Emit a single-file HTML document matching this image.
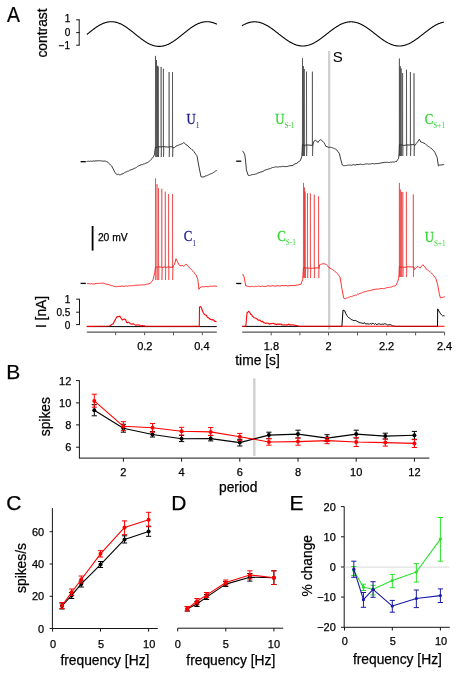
<!DOCTYPE html>
<html><head><meta charset="utf-8"><title>Figure</title>
<style>html,body{margin:0;padding:0;background:#fff;}body{width:458px;height:675px;overflow:hidden;}svg{display:block;}</style>
</head><body>
<svg width="458" height="675" viewBox="0 0 458 675"><text x="6.9" y="21.6" font-size="21.5" text-anchor="start" fill="#000" stroke="#000" stroke-width="0.25" font-family="Liberation Sans, Arial, sans-serif" transform="translate(6.9 21.6) scale(0.9 1) translate(-6.9 -21.6)">A</text>
<text x="46.5" y="33" font-size="13.8" text-anchor="middle" fill="#000" stroke="#000" stroke-width="0.25" font-family="Liberation Sans, Arial, sans-serif" transform="rotate(-90 46.5 33)" >contrast</text>
<line x1="79.2" y1="19.8" x2="79.2" y2="45.2" stroke="#151515" stroke-width="1"/>
<line x1="76.2" y1="19.8" x2="79.7" y2="19.8" stroke="#151515" stroke-width="1"/>
<line x1="76.2" y1="32.6" x2="79.7" y2="32.6" stroke="#151515" stroke-width="1"/>
<line x1="76.2" y1="45.2" x2="79.7" y2="45.2" stroke="#151515" stroke-width="1"/>
<text x="70.2" y="22.0" font-size="10" text-anchor="end" fill="#000" stroke="#000" stroke-width="0.25" font-family="Liberation Sans, Arial, sans-serif" >1</text>
<text x="70.4" y="36.4" font-size="10" text-anchor="end" fill="#000" stroke="#000" stroke-width="0.25" font-family="Liberation Sans, Arial, sans-serif" >0</text>
<text x="70.2" y="49.0" font-size="10" text-anchor="end" fill="#000" stroke="#000" stroke-width="0.25" font-family="Liberation Sans, Arial, sans-serif" >−1</text>
<path d="M86.90,34.46 L87.40,34.05 L87.90,33.64 L88.40,33.24 L88.90,32.83 L89.40,32.43 L89.90,32.03 L90.40,31.63 L90.90,31.23 L91.40,30.84 L91.90,30.45 L92.40,30.06 L92.90,29.68 L93.40,29.31 L93.90,28.93 L94.40,28.57 L94.90,28.21 L95.40,27.85 L95.90,27.50 L96.40,27.16 L96.90,26.83 L97.40,26.50 L97.90,26.19 L98.40,25.88 L98.90,25.58 L99.40,25.29 L99.90,25.01 L100.40,24.74 L100.90,24.47 L101.40,24.22 L101.90,23.98 L102.40,23.75 L102.90,23.53 L103.40,23.33 L103.90,23.13 L104.40,22.95 L104.90,22.78 L105.40,22.62 L105.90,22.47 L106.40,22.33 L106.90,22.21 L107.40,22.10 L107.90,22.01 L108.40,21.92 L108.90,21.85 L109.40,21.80 L109.90,21.75 L110.40,21.72 L110.90,21.70 L111.40,21.70 L111.90,21.71 L112.40,21.73 L112.90,21.77 L113.40,21.82 L113.90,21.88 L114.40,21.96 L114.90,22.04 L115.40,22.15 L115.90,22.26 L116.40,22.39 L116.90,22.53 L117.40,22.68 L117.90,22.84 L118.40,23.02 L118.90,23.21 L119.40,23.41 L119.90,23.62 L120.40,23.84 L120.90,24.08 L121.40,24.32 L121.90,24.58 L122.40,24.84 L122.90,25.12 L123.40,25.40 L123.90,25.70 L124.40,26.00 L124.90,26.31 L125.40,26.63 L125.90,26.96 L126.40,27.30 L126.90,27.64 L127.40,27.99 L127.90,28.35 L128.40,28.71 L128.90,29.08 L129.40,29.46 L129.90,29.83 L130.40,30.22 L130.90,30.61 L131.40,31.00 L131.90,31.39 L132.40,31.79 L132.90,32.19 L133.40,32.59 L133.90,33.00 L134.40,33.40 L134.90,33.81 L135.40,34.21 L135.90,34.62 L136.40,35.02 L136.90,35.43 L137.40,35.83 L137.90,36.23 L138.40,36.63 L138.90,37.02 L139.40,37.42 L139.90,37.80 L140.40,38.19 L140.90,38.57 L141.40,38.94 L141.90,39.31 L142.40,39.68 L142.90,40.04 L143.40,40.39 L143.90,40.73 L144.40,41.07 L144.90,41.40 L145.40,41.72 L145.90,42.04 L146.40,42.34 L146.90,42.64 L147.40,42.93 L147.90,43.20 L148.40,43.47 L148.90,43.73 L149.40,43.97 L149.90,44.21 L150.40,44.44 L150.90,44.65 L151.40,44.85 L151.90,45.04 L152.40,45.22 L152.90,45.39 L153.40,45.54 L153.90,45.69 L154.40,45.82 L154.90,45.93 L155.40,46.04 L155.90,46.13 L156.40,46.21 L156.90,46.27 L157.40,46.32 L157.90,46.36 L158.40,46.39 L158.90,46.40 L159.40,46.40 L159.90,46.38 L160.40,46.35 L160.90,46.31 L161.40,46.26 L161.90,46.19 L162.40,46.11 L162.90,46.02 L163.40,45.91 L163.90,45.79 L164.40,45.66 L164.90,45.51 L165.40,45.36 L165.90,45.19 L166.40,45.01 L166.90,44.81 L167.40,44.61 L167.90,44.39 L168.40,44.16 L168.90,43.93 L169.40,43.68 L169.90,43.42 L170.40,43.15 L170.90,42.87 L171.40,42.58 L171.90,42.28 L172.40,41.97 L172.90,41.66 L173.40,41.34 L173.90,41.00 L174.40,40.66 L174.90,40.32 L175.40,39.97 L175.90,39.61 L176.40,39.24 L176.90,38.87 L177.40,38.49 L177.90,38.11 L178.40,37.73 L178.90,37.34 L179.40,36.94 L179.90,36.55 L180.40,36.15 L180.90,35.75 L181.40,35.35 L181.90,34.94 L182.40,34.54 L182.90,34.13 L183.40,33.73 L183.90,33.32 L184.40,32.92 L184.90,32.51 L185.40,32.11 L185.90,31.71 L186.40,31.31 L186.90,30.92 L187.40,30.53 L187.90,30.14 L188.40,29.76 L188.90,29.38 L189.40,29.01 L189.90,28.64 L190.40,28.28 L190.90,27.92 L191.40,27.57 L191.90,27.23 L192.40,26.90 L192.90,26.57 L193.40,26.25 L193.90,25.94 L194.40,25.64 L194.90,25.35 L195.40,25.06 L195.90,24.79 L196.40,24.53 L196.90,24.27 L197.40,24.03 L197.90,23.80 L198.40,23.58 L198.90,23.37 L199.40,23.17 L199.90,22.98 L200.40,22.81 L200.90,22.65 L201.40,22.50 L201.90,22.36 L202.40,22.24 L202.90,22.12 L203.40,22.03 L203.90,21.94 L204.40,21.87 L204.90,21.81 L205.40,21.76 L205.90,21.73 L206.40,21.71 L206.90,21.70 L207.40,21.71 L207.90,21.73 L208.40,21.76 L208.90,21.81 L209.40,21.87 L209.90,21.94 L210.40,22.03 L210.90,22.12 L211.40,22.24 L211.90,22.36 L212.40,22.50 L212.90,22.65 L213.40,22.81 L213.90,22.98 L214.40,23.17 L214.90,23.37 L215.40,23.58 L215.90,23.80 L216.40,24.03 L216.90,24.27" fill="none" stroke="#000" stroke-width="1.1" stroke-linejoin="round" />
<path d="M241.90,25.71 L242.40,25.43 L242.90,25.15 L243.40,24.88 L243.90,24.63 L244.40,24.38 L244.90,24.14 L245.40,23.91 L245.90,23.69 L246.40,23.49 L246.90,23.29 L247.40,23.11 L247.90,22.94 L248.40,22.77 L248.90,22.63 L249.40,22.49 L249.90,22.36 L250.40,22.25 L250.90,22.15 L251.40,22.06 L251.90,21.99 L252.40,21.92 L252.90,21.87 L253.40,21.84 L253.90,21.81 L254.40,21.80 L254.90,21.80 L255.40,21.82 L255.90,21.84 L256.40,21.88 L256.90,21.94 L257.40,22.00 L257.90,22.08 L258.40,22.17 L258.90,22.27 L259.40,22.39 L259.90,22.51 L260.40,22.65 L260.90,22.81 L261.40,22.97 L261.90,23.14 L262.40,23.33 L262.90,23.53 L263.40,23.74 L263.90,23.96 L264.40,24.19 L264.90,24.43 L265.40,24.68 L265.90,24.94 L266.40,25.21 L266.90,25.48 L267.40,25.77 L267.90,26.07 L268.40,26.37 L268.90,26.69 L269.40,27.01 L269.90,27.33 L270.40,27.67 L270.90,28.01 L271.40,28.36 L271.90,28.71 L272.40,29.07 L272.90,29.43 L273.40,29.80 L273.90,30.18 L274.40,30.55 L274.90,30.93 L275.40,31.32 L275.90,31.70 L276.40,32.09 L276.90,32.48 L277.40,32.88 L277.90,33.27 L278.40,33.66 L278.90,34.06 L279.40,34.45 L279.90,34.85 L280.40,35.24 L280.90,35.63 L281.40,36.02 L281.90,36.41 L282.40,36.79 L282.90,37.17 L283.40,37.55 L283.90,37.92 L284.40,38.29 L284.90,38.66 L285.40,39.02 L285.90,39.37 L286.40,39.72 L286.90,40.06 L287.40,40.40 L287.90,40.73 L288.40,41.05 L288.90,41.36 L289.40,41.67 L289.90,41.97 L290.40,42.26 L290.90,42.54 L291.40,42.81 L291.90,43.07 L292.40,43.32 L292.90,43.57 L293.40,43.80 L293.90,44.02 L294.40,44.23 L294.90,44.43 L295.40,44.62 L295.90,44.80 L296.40,44.96 L296.90,45.12 L297.40,45.26 L297.90,45.39 L298.40,45.51 L298.90,45.61 L299.40,45.70 L299.90,45.78 L300.40,45.85 L300.90,45.91 L301.40,45.95 L301.90,45.98 L302.40,46.00 L302.90,46.00 L303.40,45.99 L303.90,45.97 L304.40,45.93 L304.90,45.89 L305.40,45.83 L305.90,45.75 L306.40,45.67 L306.90,45.57 L307.40,45.46 L307.90,45.34 L308.40,45.20 L308.90,45.06 L309.40,44.90 L309.90,44.73 L310.40,44.55 L310.90,44.35 L311.40,44.15 L311.90,43.93 L312.40,43.71 L312.90,43.47 L313.40,43.23 L313.90,42.97 L314.40,42.70 L314.90,42.43 L315.40,42.14 L315.90,41.85 L316.40,41.55 L316.90,41.24 L317.40,40.92 L317.90,40.60 L318.40,40.27 L318.90,39.93 L319.40,39.58 L319.90,39.23 L320.40,38.87 L320.90,38.51 L321.40,38.15 L321.90,37.77 L322.40,37.40 L322.90,37.02 L323.40,36.64 L323.90,36.25 L324.40,35.86 L324.90,35.47 L325.40,35.08 L325.90,34.69 L326.40,34.29 L326.90,33.90 L327.40,33.51 L327.90,33.11 L328.40,32.72 L328.90,32.33 L329.40,31.94 L329.90,31.55 L330.40,31.16 L330.90,30.78 L331.40,30.40 L331.90,30.03 L332.40,29.65 L332.90,29.29 L333.40,28.93 L333.90,28.57 L334.40,28.22 L334.90,27.87 L335.40,27.53 L335.90,27.20 L336.40,26.88 L336.90,26.56 L337.40,26.25 L337.90,25.95 L338.40,25.66 L338.90,25.37 L339.40,25.10 L339.90,24.83 L340.40,24.57 L340.90,24.33 L341.40,24.09 L341.90,23.87 L342.40,23.65 L342.90,23.45 L343.40,23.25 L343.90,23.07 L344.40,22.90 L344.90,22.74 L345.40,22.60 L345.90,22.46 L346.40,22.34 L346.90,22.23 L347.40,22.13 L347.90,22.05 L348.40,21.97 L348.90,21.91 L349.40,21.87 L349.90,21.83 L350.40,21.81 L350.90,21.80 L351.40,21.80 L351.90,21.82 L352.40,21.85 L352.90,21.89 L353.40,21.95 L353.90,22.02 L354.40,22.10 L354.90,22.19 L355.40,22.29 L355.90,22.41 L356.40,22.54 L356.90,22.68 L357.40,22.84 L357.90,23.00 L358.40,23.18 L358.90,23.37 L359.40,23.57 L359.90,23.78 L360.40,24.00 L360.90,24.23 L361.40,24.48 L361.90,24.73 L362.40,24.99 L362.90,25.26 L363.40,25.54 L363.90,25.83 L364.40,26.13 L364.90,26.44 L365.40,26.75 L365.90,27.07 L366.40,27.40 L366.90,27.74 L367.40,28.08 L367.90,28.43 L368.40,28.78 L368.90,29.14 L369.40,29.51 L369.90,29.88 L370.40,30.25 L370.90,30.63 L371.40,31.01 L371.90,31.39 L372.40,31.78 L372.90,32.17 L373.40,32.56 L373.90,32.95 L374.40,33.35 L374.90,33.74 L375.40,34.14 L375.90,34.53 L376.40,34.92 L376.90,35.32 L377.40,35.71 L377.90,36.10 L378.40,36.48 L378.90,36.87 L379.40,37.25 L379.90,37.62 L380.40,38.00 L380.90,38.37 L381.40,38.73 L381.90,39.09 L382.40,39.44 L382.90,39.79 L383.40,40.13 L383.90,40.47 L384.40,40.79 L384.90,41.11 L385.40,41.43 L385.90,41.73 L386.40,42.03 L386.90,42.32 L387.40,42.59 L387.90,42.86 L388.40,43.12 L388.90,43.37 L389.40,43.61 L389.90,43.84 L390.40,44.06 L390.90,44.27 L391.40,44.47 L391.90,44.66 L392.40,44.83 L392.90,44.99 L393.40,45.15 L393.90,45.29 L394.40,45.41 L394.90,45.53 L395.40,45.63 L395.90,45.72 L396.40,45.80 L396.90,45.86 L397.40,45.92 L397.90,45.96 L398.40,45.98 L398.90,46.00 L399.40,46.00 L399.90,45.99 L400.40,45.96 L400.90,45.93 L401.40,45.88 L401.90,45.81 L402.40,45.74 L402.90,45.65 L403.40,45.55 L403.90,45.44 L404.40,45.31 L404.90,45.17 L405.40,45.03 L405.90,44.86 L406.40,44.69 L406.90,44.51 L407.40,44.31 L407.90,44.11 L408.40,43.89 L408.90,43.66 L409.40,43.42 L409.90,43.17 L410.40,42.92 L410.90,42.65 L411.40,42.37 L411.90,42.09 L412.40,41.79 L412.90,41.49 L413.40,41.18 L413.90,40.86 L414.40,40.53 L414.90,40.20 L415.40,39.86 L415.90,39.51 L416.40,39.16 L416.90,38.80 L417.40,38.44 L417.90,38.07 L418.40,37.70 L418.90,37.32 L419.40,36.94 L419.90,36.56 L420.40,36.17 L420.90,35.79 L421.40,35.39 L421.90,35.00 L422.40,34.61 L422.90,34.22 L423.40,33.82 L423.90,33.43 L424.40,33.03 L424.90,32.64 L425.40,32.25 L425.90,31.86 L426.40,31.47 L426.90,31.09 L427.40,30.70 L427.90,30.33 L428.40,29.95 L428.90,29.58 L429.40,29.21 L429.90,28.85 L430.40,28.50 L430.90,28.15 L431.40,27.80 L431.90,27.47 L432.40,27.14 L432.90,26.81 L433.40,26.50 L433.90,26.19 L434.40,25.89 L434.90,25.60 L435.40,25.32 L435.90,25.04 L436.40,24.78 L436.90,24.52 L437.40,24.28 L437.90,24.05 L438.40,23.82 L438.90,23.61 L439.40,23.41 L439.90,23.22 L440.40,23.04 L440.90,22.87 L441.40,22.71 L441.90,22.57 L442.40,22.44 L442.90,22.32 L443.40,22.21 L443.90,22.11" fill="none" stroke="#000" stroke-width="1.1" stroke-linejoin="round" />
<rect x="328.0" y="50.8" width="2.3" height="278.8" fill="#d0d0d0"/>
<text x="332.7" y="62.3" font-size="15" text-anchor="start" fill="#000" stroke="#000" stroke-width="0.05" font-family="Liberation Sans, Arial, sans-serif" >S</text>
<path d="M86.50,161.50 L87.56,161.33 L88.62,161.16 L89.68,161.47 L90.75,161.02 L91.81,161.29 L92.87,161.13 L93.93,160.87 L94.99,161.14 L96.05,160.76 L97.12,160.99 L98.18,160.69 L99.24,160.66 L100.30,160.90 L101.57,160.88 L102.83,161.20 L104.10,161.00 L105.37,161.14 L106.63,161.61 L107.90,162.20 L109.17,163.56 L110.43,165.05 L111.70,166.00 L112.73,168.12 L113.77,170.06 L114.80,172.20 L116.30,174.10 L117.33,174.67 L118.37,174.25 L119.40,174.80 L120.67,174.68 L121.93,173.92 L123.20,173.70 L124.23,172.85 L125.27,172.23 L126.30,171.90 L127.42,171.27 L128.55,171.12 L129.68,170.18 L130.80,169.90 L131.95,169.48 L133.10,169.05 L134.25,168.39 L135.40,168.00 L136.55,167.36 L137.70,166.34 L138.85,165.67 L140.00,165.30 L141.15,164.72 L142.30,164.68 L143.45,164.12 L144.60,163.80 L145.87,163.14 L147.13,162.79 L148.40,162.20 L149.67,160.90 L150.93,159.53 L152.20,158.40 L153.35,156.71 L154.50,154.60 L155.00,150.00 L155.40,147.16 L156.00,147.12 L156.40,147.39 L157.00,147.26 L157.40,146.83 L158.00,146.91 L158.20,147.13 L158.80,146.62 L161.00,146.97 L161.60,146.73 L163.30,146.69 L163.90,146.65 L169.00,147.21 L169.60,146.70 L172.40,146.80 L173.00,146.91 L173.50,148.00 L174.73,147.34 L175.97,146.22 L177.20,145.60 L178.40,145.19 L179.60,144.68 L180.80,144.20 L181.80,143.93 L182.80,143.29 L183.80,142.60 L184.85,143.35 L185.90,144.74 L186.95,145.03 L188.00,146.20 L189.00,147.04 L190.00,148.18 L191.00,148.66 L192.00,149.79 L193.00,150.38 L194.00,151.60 L195.00,153.12 L196.00,154.59 L197.00,155.80 L198.80,166.00 L201.00,176.80 L202.00,176.95 L203.00,177.00 L204.10,176.83 L205.20,176.00 L206.30,175.84 L207.40,175.33 L208.50,174.89 L209.60,174.40 L210.63,173.83 L211.66,173.55 L212.69,173.08 L213.71,172.21 L214.74,171.80 L215.77,170.84 L216.80,170.60" fill="none" stroke="#161616" stroke-width="0.85" stroke-linejoin="round" />
<path d="M155.40,147.00 L155.50,55.90 L155.65,157.00 L156.00,147.00 M156.40,147.00 L156.50,60.00 L156.65,157.00 L157.00,147.00 M157.40,147.00 L157.50,65.80 L157.65,157.00 L158.00,147.00 M158.20,147.00 L158.30,66.50 L158.45,157.00 L158.80,147.00 M161.00,147.00 L161.10,66.90 L161.25,157.00 L161.60,147.00 M163.30,147.00 L163.40,68.70 L163.55,157.00 L163.90,147.00 M169.00,147.00 L169.10,72.00 L169.25,157.00 L169.60,147.00 M172.40,147.00 L172.50,72.00 L172.65,157.00 L173.00,147.00" fill="none" stroke="#2a2a2a" stroke-width="0.55" stroke-opacity="1"/>
<line x1="80.6" y1="161.7" x2="85.8" y2="161.7" stroke="#000" stroke-width="1.3"/>
<path d="M242.30,150.80 L243.50,152.00 L244.80,154.90 L245.60,161.00 L246.40,169.90 L248.10,175.20 L249.35,175.51 L250.60,175.30 L251.64,174.69 L252.67,174.64 L253.71,174.40 L254.75,174.32 L255.79,173.96 L256.82,173.68 L257.86,172.96 L258.90,172.80 L259.94,172.33 L260.97,171.88 L262.01,171.83 L263.05,171.47 L264.09,170.49 L265.12,170.10 L266.16,169.72 L267.20,169.50 L268.24,168.99 L269.27,168.84 L270.31,168.59 L271.35,168.03 L272.39,167.53 L273.43,167.49 L274.46,167.13 L275.50,166.90 L276.54,166.90 L277.57,167.12 L278.61,166.88 L279.65,166.71 L280.69,166.73 L281.73,166.72 L282.76,166.24 L283.80,166.50 L284.82,166.68 L285.85,166.50 L286.88,166.46 L287.90,166.31 L288.93,165.92 L289.95,165.83 L290.98,165.52 L292.00,165.70 L293.00,165.29 L294.00,164.39 L295.00,163.90 L296.00,163.50 L297.00,163.20 L298.10,162.13 L299.20,161.42 L300.30,160.70 L301.80,156.60 L302.20,150.00 L302.40,144.98 L303.00,144.74 L303.30,145.23 L303.90,144.87 L304.20,145.24 L304.80,145.38 L306.40,144.92 L307.00,144.92 L312.30,145.36 L312.90,145.18 L313.50,142.00 L315.40,140.00 L316.65,140.94 L317.90,142.50 L319.10,140.70 L320.30,139.60 L321.50,140.32 L322.70,141.25 L323.90,142.50 L324.95,144.45 L326.00,146.60 L327.10,146.48 L328.20,147.30 L329.30,147.33 L330.40,147.22 L331.50,147.51 L332.60,147.90 L333.65,148.29 L334.70,148.80 L335.75,149.14 L336.80,149.90 L338.05,151.84 L339.30,153.30 L340.90,159.90 L342.30,164.90 L343.30,165.65 L344.30,165.70 L345.36,165.59 L346.43,165.52 L347.49,165.15 L348.56,165.08 L349.62,165.16 L350.69,165.02 L351.75,165.33 L352.81,164.78 L353.88,164.59 L354.94,165.16 L356.01,164.78 L357.07,164.42 L358.14,164.62 L359.20,164.50 L360.24,164.11 L361.27,164.39 L362.31,164.65 L363.35,164.50 L364.39,164.32 L365.43,163.96 L366.46,163.97 L367.50,163.77 L368.54,164.13 L369.57,163.90 L370.61,164.01 L371.65,163.63 L372.69,163.49 L373.73,163.84 L374.76,163.90 L375.80,163.50 L376.84,163.65 L377.88,163.51 L378.91,163.42 L379.95,163.27 L380.99,162.81 L382.02,162.91 L383.06,162.70 L384.10,162.37 L385.14,162.27 L386.18,162.35 L387.21,162.23 L388.25,162.43 L389.29,162.52 L390.32,162.06 L391.36,162.31 L392.40,161.90 L393.42,162.14 L394.45,162.02 L395.48,161.51 L396.50,161.50 L397.60,159.65 L398.70,158.20 L399.10,152.00 L399.30,144.74 L399.90,144.70 L400.20,144.72 L400.80,145.32 L401.10,145.25 L401.70,144.72 L402.50,145.26 L403.10,145.38 L406.40,145.13 L407.00,144.88 L410.30,145.04 L410.90,144.70 L413.90,144.61 L414.50,145.38 L415.00,145.50 L416.25,143.56 L417.50,142.00 L419.40,139.30 L420.70,142.00 L421.80,142.19 L422.90,142.59 L424.00,143.29 L425.10,143.60 L426.20,144.81 L427.30,145.70 L428.40,146.40 L429.50,147.12 L430.60,147.97 L431.70,148.60 L432.77,150.08 L433.83,150.84 L434.90,152.40 L436.00,154.96 L437.10,157.30 L438.40,166.00 L439.80,164.90 L440.90,165.06 L442.00,164.85 L443.10,164.70 L444.20,164.40" fill="none" stroke="#161616" stroke-width="0.85" stroke-linejoin="round" />
<path d="M302.40,145.00 L302.50,58.20 L302.65,156.00 L303.00,145.00 M303.30,145.00 L303.40,66.00 L303.55,156.00 L303.90,145.00 M304.20,145.00 L304.30,69.00 L304.45,156.00 L304.80,145.00 M306.40,145.00 L306.50,71.60 L306.65,156.00 L307.00,145.00 M312.30,145.00 L312.40,71.60 L312.55,156.00 L312.90,145.00 M399.30,145.00 L399.40,58.50 L399.55,156.00 L399.90,145.00 M400.20,145.00 L400.30,66.10 L400.45,156.00 L400.80,145.00 M401.10,145.00 L401.20,68.40 L401.35,156.00 L401.70,145.00 M402.50,145.00 L402.60,73.00 L402.75,156.00 L403.10,145.00 M406.40,145.00 L406.50,69.70 L406.65,156.00 L407.00,145.00 M410.30,145.00 L410.40,72.00 L410.55,156.00 L410.90,145.00 M413.90,145.00 L414.00,73.30 L414.15,156.00 L414.50,145.00" fill="none" stroke="#2a2a2a" stroke-width="0.55" stroke-opacity="1"/>
<line x1="236.2" y1="161.2" x2="241.3" y2="161.2" stroke="#000" stroke-width="1.3"/>
<path d="M87.10,283.50 L88.23,283.65 L89.36,283.60 L90.49,283.93 L91.61,283.63 L92.74,283.97 L93.87,283.99 L95.00,283.80 L96.11,283.51 L97.23,283.45 L98.34,283.40 L99.46,283.28 L100.57,283.43 L101.69,283.12 L102.80,283.20 L103.84,283.40 L104.88,283.46 L105.92,284.27 L106.96,284.14 L108.00,284.50 L109.11,284.78 L110.23,285.19 L111.34,285.73 L112.46,285.70 L113.57,286.36 L114.69,286.39 L115.80,286.70 L116.83,286.67 L117.86,286.60 L118.89,286.19 L119.91,286.43 L120.94,286.19 L121.97,286.01 L123.00,286.30 L124.10,286.44 L125.20,285.93 L126.30,286.07 L127.40,286.17 L128.50,285.98 L129.60,285.75 L130.70,285.80 L131.74,285.73 L132.79,285.67 L133.83,285.74 L134.87,285.18 L135.91,285.41 L136.96,285.11 L138.00,285.20 L139.07,284.94 L140.14,285.19 L141.21,284.91 L142.29,284.84 L143.36,284.88 L144.43,284.89 L145.50,284.50 L146.68,284.21 L147.85,284.08 L149.02,283.75 L150.20,283.50 L151.60,281.66 L153.00,279.80 L154.80,272.40 L155.40,267.23 L156.00,267.32 L156.90,266.72 L157.50,267.17 L158.40,267.13 L159.00,266.71 L161.70,267.31 L162.30,267.37 L165.20,266.78 L165.80,267.36 L168.50,266.92 L169.10,266.99 L172.40,267.39 L173.00,267.27 L173.50,265.50 L174.40,264.70 L176.00,258.70 L177.60,262.00 L179.30,265.30 L180.90,265.80 L182.60,265.30 L183.60,266.40 L184.70,265.43 L185.80,264.20 L187.50,265.30 L188.60,266.62 L189.70,268.00 L190.75,269.12 L191.80,270.20 L192.90,271.28 L194.00,272.40 L195.10,274.06 L196.20,275.10 L197.80,279.50 L198.90,289.30 L200.60,287.10 L201.70,286.99 L202.80,286.60 L203.81,286.84 L204.83,286.85 L205.84,286.35 L206.86,286.53 L207.87,286.77 L208.89,286.67 L209.90,286.15 L210.91,286.11 L211.93,286.30 L212.94,286.02 L213.96,286.10 L214.97,285.96 L215.99,286.35 L217.00,286.20" fill="none" stroke="#ff0000" stroke-width="0.8" stroke-linejoin="round" />
<path d="M155.40,267.00 L155.50,178.30 L155.65,280.00 L156.00,267.00 M156.90,267.00 L157.00,184.00 L157.15,280.00 L157.50,267.00 M158.40,267.00 L158.50,188.00 L158.65,280.00 L159.00,267.00 M161.70,267.00 L161.80,188.80 L161.95,280.00 L162.30,267.00 M165.20,267.00 L165.30,191.70 L165.45,280.00 L165.80,267.00 M168.50,267.00 L168.60,194.00 L168.75,280.00 L169.10,267.00 M172.40,267.00 L172.50,194.00 L172.65,280.00 L173.00,267.00" fill="none" stroke="#e81a1a" stroke-width="0.6" stroke-opacity="0.85"/>
<line x1="80.6" y1="283.4" x2="85.8" y2="283.4" stroke="#000" stroke-width="1.3"/>
<path d="M242.70,274.00 L244.10,277.00 L245.80,286.00 L247.00,286.00 L248.20,286.42 L249.40,286.70 L250.43,286.68 L251.46,286.52 L252.49,286.39 L253.51,286.44 L254.54,286.69 L255.57,286.16 L256.60,286.50 L257.63,286.39 L258.66,286.06 L259.69,286.25 L260.71,286.42 L261.74,286.31 L262.77,285.96 L263.80,286.57 L264.83,286.40 L265.86,286.50 L266.89,285.86 L267.91,285.94 L268.94,285.74 L269.97,286.23 L271.00,286.00 L272.00,285.82 L273.00,285.70 L274.00,285.88 L275.00,286.20 L276.00,286.12 L277.00,285.71 L278.00,285.61 L279.00,286.13 L280.00,285.86 L281.00,285.93 L282.00,285.48 L283.00,285.44 L284.00,285.86 L285.00,285.66 L286.00,285.39 L287.00,285.97 L288.00,285.74 L289.00,285.84 L290.00,285.31 L291.00,285.83 L292.00,285.26 L293.00,285.80 L294.00,285.49 L295.00,285.50 L296.00,285.19 L297.00,285.14 L298.00,285.20 L299.00,284.54 L300.00,284.24 L301.00,284.30 L302.70,279.50 L303.40,267.92 L304.00,267.63 L304.40,267.62 L305.00,267.84 L305.10,267.79 L305.70,268.07 L307.40,268.02 L308.00,268.20 L310.30,268.13 L310.90,268.17 L314.20,268.30 L314.80,267.91 L318.50,267.86 L319.10,268.39 L319.50,265.00 L320.53,264.62 L321.57,264.02 L322.60,263.80 L323.83,263.76 L325.07,264.03 L326.30,264.50 L327.65,265.84 L329.00,267.80 L330.23,268.22 L331.47,268.94 L332.70,269.70 L333.90,270.46 L335.10,271.68 L336.30,272.40 L337.53,273.79 L338.77,275.47 L340.00,277.00 L341.80,288.00 L343.70,298.10 L345.50,298.70 L346.52,298.11 L347.54,297.86 L348.57,297.26 L349.59,297.06 L350.61,296.53 L351.63,296.66 L352.66,296.17 L353.68,295.55 L354.70,295.40 L355.70,295.01 L356.70,294.96 L357.70,294.01 L358.70,294.13 L359.70,293.49 L360.70,293.16 L361.70,293.03 L362.70,292.34 L363.70,292.05 L364.70,291.80 L365.70,291.30 L366.74,291.42 L367.79,290.76 L368.83,290.89 L369.87,290.59 L370.91,290.32 L371.96,289.95 L373.00,289.80 L374.02,289.56 L375.04,289.22 L376.07,289.14 L377.09,288.97 L378.11,289.30 L379.13,288.83 L380.16,288.63 L381.18,288.44 L382.20,288.60 L383.22,288.67 L384.24,288.53 L385.27,288.22 L386.29,287.78 L387.31,287.59 L388.33,287.46 L389.36,287.40 L390.38,287.03 L391.40,287.10 L392.55,286.61 L393.70,286.03 L394.85,286.07 L396.00,285.30 L397.35,282.38 L398.70,278.80 L399.10,272.00 L399.30,266.72 L399.90,267.18 L400.30,267.11 L400.90,266.64 L401.40,267.27 L402.00,267.31 L402.70,267.10 L403.30,267.19 L406.30,267.25 L406.90,266.71 L413.20,267.02 L413.80,267.00 L414.30,269.50 L415.53,268.50 L416.77,267.25 L418.00,266.40 L419.10,267.53 L420.20,268.00 L421.55,266.22 L422.90,264.70 L424.00,266.07 L425.10,267.28 L426.20,269.10 L427.30,269.75 L428.40,270.55 L429.50,271.30 L430.60,272.40 L431.70,273.29 L432.80,274.60 L433.87,276.04 L434.93,277.12 L436.00,278.90 L437.70,284.90 L439.30,293.70 L440.40,298.00 L441.50,297.58 L442.60,297.50 L443.70,296.91 L444.80,296.90" fill="none" stroke="#ff0000" stroke-width="0.8" stroke-linejoin="round" />
<path d="M303.40,268.00 L303.50,182.90 L303.65,278.00 L304.00,268.00 M304.40,268.00 L304.50,187.50 L304.65,278.00 L305.00,268.00 M305.10,268.00 L305.20,191.80 L305.35,278.00 L305.70,268.00 M307.40,268.00 L307.50,193.10 L307.65,278.00 L308.00,268.00 M310.30,268.00 L310.40,193.40 L310.55,278.00 L310.90,268.00 M314.20,268.00 L314.30,194.70 L314.45,278.00 L314.80,268.00 M318.50,268.00 L318.60,196.30 L318.75,278.00 L319.10,268.00 M399.30,267.00 L399.40,182.90 L399.55,277.00 L399.90,267.00 M400.30,267.00 L400.40,189.50 L400.55,277.00 L400.90,267.00 M401.40,267.00 L401.50,191.80 L401.65,277.00 L402.00,267.00 M402.70,267.00 L402.80,192.00 L402.95,277.00 L403.30,267.00 M406.30,267.00 L406.40,191.80 L406.55,277.00 L406.90,267.00 M413.20,267.00 L413.30,194.40 L413.45,277.00 L413.80,267.00" fill="none" stroke="#e81a1a" stroke-width="0.6" stroke-opacity="0.85"/>
<line x1="236.2" y1="283.5" x2="241.3" y2="283.5" stroke="#000" stroke-width="1.3"/>
<text x="186.5" y="124" font-size="14.2" fill="#20208f" stroke="#20208f" stroke-width="0.3" font-family="Liberation Serif, Times New Roman, serif" transform="translate(186.5 124) scale(0.9 1) translate(-186.5 -124)">U<tspan font-size="8.5" dx="0" dy="4.3" stroke-width="0">1</tspan></text>
<text x="183.8" y="241.3" font-size="14.2" fill="#20208f" stroke="#20208f" stroke-width="0.3" font-family="Liberation Serif, Times New Roman, serif" transform="translate(183.8 241.3) scale(0.9 1) translate(-183.8 -241.3)">C<tspan font-size="8.5" dx="0" dy="4.3" stroke-width="0">1</tspan></text>
<text x="275.2" y="124.2" font-size="14.2" fill="#33d633" stroke="#33d633" stroke-width="0.3" font-family="Liberation Serif, Times New Roman, serif" transform="translate(275.2 124.2) scale(0.9 1) translate(-275.2 -124.2)">U<tspan font-size="8" dx="0" dy="4.3" stroke-width="0">S-1</tspan></text>
<text x="277.3" y="241.2" font-size="14.2" fill="#33d633" stroke="#33d633" stroke-width="0.3" font-family="Liberation Serif, Times New Roman, serif" transform="translate(277.3 241.2) scale(0.9 1) translate(-277.3 -241.2)">C<tspan font-size="8" dx="0" dy="4.3" stroke-width="0">S-1</tspan></text>
<text x="424.8" y="124.2" font-size="14.2" fill="#33d633" stroke="#33d633" stroke-width="0.3" font-family="Liberation Serif, Times New Roman, serif" transform="translate(424.8 124.2) scale(0.9 1) translate(-424.8 -124.2)">C<tspan font-size="8" dx="0" dy="4.3" stroke-width="0">S+1</tspan></text>
<text x="424.8" y="242" font-size="14.2" fill="#33d633" stroke="#33d633" stroke-width="0.3" font-family="Liberation Serif, Times New Roman, serif" transform="translate(424.8 242) scale(0.9 1) translate(-424.8 -242)">U<tspan font-size="8" dx="0" dy="4.3" stroke-width="0">S+1</tspan></text>
<line x1="92.6" y1="226" x2="92.6" y2="250.6" stroke="#000" stroke-width="1.8"/>
<text x="97.9" y="241" font-size="10.3" text-anchor="start" fill="#000" stroke="#000" stroke-width="0.25" font-family="Liberation Sans, Arial, sans-serif" >20 mV</text>
<text x="46.3" y="312" font-size="13.8" text-anchor="middle" fill="#000" stroke="#000" stroke-width="0.25" font-family="Liberation Sans, Arial, sans-serif" transform="rotate(-90 46.3 312)" >I [nA]</text>
<line x1="79.5" y1="299.2" x2="79.5" y2="324.6" stroke="#151515" stroke-width="1"/>
<line x1="76.1" y1="299.2" x2="80" y2="299.2" stroke="#151515" stroke-width="1"/>
<line x1="76.1" y1="312.2" x2="80" y2="312.2" stroke="#151515" stroke-width="1"/>
<line x1="76.1" y1="324.6" x2="80" y2="324.6" stroke="#151515" stroke-width="1"/>
<text x="70.2" y="303.2" font-size="10" text-anchor="end" fill="#000" stroke="#000" stroke-width="0.25" font-family="Liberation Sans, Arial, sans-serif" >1</text>
<text x="70.4" y="316.0" font-size="10" text-anchor="end" fill="#000" stroke="#000" stroke-width="0.25" font-family="Liberation Sans, Arial, sans-serif" >0.5</text>
<text x="70.4" y="328.7" font-size="10" text-anchor="end" fill="#000" stroke="#000" stroke-width="0.25" font-family="Liberation Sans, Arial, sans-serif" >0</text>
<path d="M86.80,326.60 L216.80,326.60" fill="none" stroke="#000" stroke-width="1" stroke-linejoin="round" />
<path d="M242.20,326.40 L341.90,326.40 L343.00,310.10 L344.70,310.80 L344.70,310.80 L345.75,313.52 L346.80,315.30 L347.77,316.69 L348.73,317.69 L349.70,318.20 L350.56,318.80 L351.42,319.71 L352.28,319.90 L353.14,320.39 L354.00,320.60 L354.83,320.51 L355.66,320.52 L356.49,320.94 L357.31,321.55 L358.14,321.48 L358.97,322.78 L359.80,322.60 L360.60,322.81 L361.40,323.03 L362.20,323.16 L363.00,323.36 L363.80,323.22 L364.60,322.67 L365.40,323.91 L366.20,323.97 L367.00,323.75 L367.80,323.92 L368.60,324.00 L369.45,324.22 L370.29,323.39 L371.14,324.33 L371.99,323.65 L372.84,323.40 L373.68,323.67 L374.53,324.32 L375.38,323.59 L376.22,324.34 L377.07,324.67 L377.92,323.99 L378.76,323.84 L379.61,323.97 L380.46,324.26 L381.31,324.37 L382.15,324.16 L383.00,324.00 L383.85,324.35 L384.70,323.71 L385.55,323.96 L386.40,324.26 L387.25,325.09 L388.10,324.63 L388.95,325.14 L389.80,324.52 L390.65,324.73 L391.50,325.18 L392.35,325.89 L393.20,325.80 L395.00,326.40 L437.50,326.40 L437.70,308.90 L439.70,312.40 L439.70,312.40 L440.67,313.80 L441.63,314.94 L442.60,315.90 L443.60,315.65 L444.60,315.90" fill="none" stroke="#000" stroke-width="1" stroke-linejoin="round" />
<path d="M86.80,326.40 L109.50,326.00 L109.50,326.00 L110.45,325.44 L111.40,324.81 L112.35,324.23 L113.30,323.70 L114.45,320.94 L115.60,319.10 L117.10,316.50 L118.60,316.80 L119.80,316.00 L120.90,318.00 L122.40,319.90 L124.00,319.10 L125.50,319.50 L126.60,322.20 L127.50,322.81 L128.40,322.11 L129.30,322.60 L130.33,323.67 L131.37,324.12 L132.40,324.10 L133.32,323.68 L134.24,324.37 L135.16,324.96 L136.08,325.30 L137.00,324.90 L137.90,325.00 L138.80,324.94 L139.70,325.03 L140.60,326.07 L141.50,325.70 L142.42,325.47 L143.34,326.04 L144.26,325.63 L145.18,326.21 L146.10,326.30 L199.30,326.30 L199.50,307.10 L200.90,306.60 L200.90,306.60 L201.90,309.20 L203.30,312.70 L204.35,314.43 L205.40,314.90 L206.37,315.32 L207.33,317.21 L208.30,317.70 L209.23,318.28 L210.17,319.37 L211.10,319.40 L212.03,319.98 L212.97,319.62 L213.90,320.30 L214.77,321.42 L215.63,321.41 L216.50,322.00" fill="none" stroke="#ff0000" stroke-width="1.1" stroke-linejoin="round" />
<path d="M242.20,326.20 L245.80,326.20 L247.00,313.00 L248.70,311.30 L248.70,311.30 L249.65,312.18 L250.60,314.20 L251.50,314.50 L252.40,315.99 L253.30,316.84 L254.20,317.80 L255.00,317.96 L255.80,318.17 L256.60,318.81 L257.40,319.18 L258.20,320.21 L259.00,320.20 L259.90,319.99 L260.80,321.28 L261.70,321.77 L262.60,321.29 L263.50,322.65 L264.40,322.78 L265.30,323.39 L266.20,323.30 L267.00,323.11 L267.80,323.28 L268.60,323.37 L269.40,324.17 L270.20,323.74 L271.00,323.53 L271.80,323.68 L272.60,323.56 L273.40,323.36 L274.20,323.49 L275.00,324.43 L275.80,323.84 L276.60,324.69 L277.40,323.93 L278.20,324.30 L279.00,324.05 L279.80,324.37 L280.60,324.01 L281.40,324.26 L282.20,324.99 L283.00,324.93 L283.80,324.87 L284.60,324.68 L285.40,325.05 L286.20,325.11 L287.00,324.66 L287.80,324.90 L288.60,324.12 L289.40,324.97 L290.20,324.66 L291.00,325.05 L291.80,324.95 L292.60,324.80 L299.80,326.20 L444.60,326.20" fill="none" stroke="#ff0000" stroke-width="1.1" stroke-linejoin="round" />
<line x1="86.8" y1="332.2" x2="216.8" y2="332.2" stroke="#555" stroke-width="1.2"/>
<line x1="115.6" y1="332.2" x2="115.6" y2="335.2" stroke="#555" stroke-width="1"/>
<line x1="144.6" y1="332.2" x2="144.6" y2="335.2" stroke="#555" stroke-width="1"/>
<line x1="173.5" y1="332.2" x2="173.5" y2="335.2" stroke="#555" stroke-width="1"/>
<line x1="202.3" y1="332.2" x2="202.3" y2="335.2" stroke="#555" stroke-width="1"/>
<line x1="242.2" y1="332.2" x2="444.6" y2="332.2" stroke="#555" stroke-width="1.2"/>
<line x1="271.2" y1="332.2" x2="271.2" y2="335.4" stroke="#555" stroke-width="1"/>
<line x1="299.9" y1="332.2" x2="299.9" y2="335.4" stroke="#555" stroke-width="1"/>
<line x1="328.5" y1="332.2" x2="328.5" y2="335.4" stroke="#555" stroke-width="1"/>
<line x1="357.5" y1="332.2" x2="357.5" y2="335.4" stroke="#555" stroke-width="1"/>
<line x1="386.6" y1="332.2" x2="386.6" y2="335.4" stroke="#555" stroke-width="1"/>
<line x1="415.6" y1="332.2" x2="415.6" y2="335.4" stroke="#555" stroke-width="1"/>
<line x1="444.6" y1="332.2" x2="444.6" y2="335.4" stroke="#555" stroke-width="1"/>
<text x="144.8" y="350" font-size="11" text-anchor="middle" fill="#000" stroke="#000" stroke-width="0.25" font-family="Liberation Sans, Arial, sans-serif" >0.2</text>
<text x="201.9" y="350" font-size="11" text-anchor="middle" fill="#000" stroke="#000" stroke-width="0.25" font-family="Liberation Sans, Arial, sans-serif" >0.4</text>
<text x="271.4" y="350" font-size="11" text-anchor="middle" fill="#000" stroke="#000" stroke-width="0.25" font-family="Liberation Sans, Arial, sans-serif" >1.8</text>
<text x="328.6" y="350" font-size="11" text-anchor="middle" fill="#000" stroke="#000" stroke-width="0.25" font-family="Liberation Sans, Arial, sans-serif" >2</text>
<text x="386.6" y="350" font-size="11" text-anchor="middle" fill="#000" stroke="#000" stroke-width="0.25" font-family="Liberation Sans, Arial, sans-serif" >2.2</text>
<text x="444.6" y="350" font-size="11" text-anchor="middle" fill="#000" stroke="#000" stroke-width="0.25" font-family="Liberation Sans, Arial, sans-serif" >2.4</text>
<text x="257.5" y="364.5" font-size="13.8" text-anchor="middle" fill="#000" stroke="#000" stroke-width="0.25" font-family="Liberation Sans, Arial, sans-serif" >time [s]</text>
<text x="6.2" y="378.7" font-size="21" text-anchor="start" fill="#000" stroke="#000" stroke-width="0.25" font-family="Liberation Sans, Arial, sans-serif" >B</text>
<text x="49.7" y="416.7" font-size="13.8" text-anchor="middle" fill="#000" stroke="#000" stroke-width="0.25" font-family="Liberation Sans, Arial, sans-serif" transform="rotate(-90 49.7 416.7)" >spikes</text>
<line x1="79.4" y1="380.3" x2="79.4" y2="458.6" stroke="#151515" stroke-width="1"/>
<line x1="79.4" y1="458.1" x2="429.4" y2="458.1" stroke="#151515" stroke-width="1"/>
<line x1="76" y1="380.6" x2="79.4" y2="380.6" stroke="#151515" stroke-width="1"/>
<text x="71.3" y="384.6" font-size="11" text-anchor="end" fill="#000" stroke="#000" stroke-width="0.25" font-family="Liberation Sans, Arial, sans-serif" >12</text>
<line x1="76" y1="402.9" x2="79.4" y2="402.9" stroke="#151515" stroke-width="1"/>
<text x="71.3" y="406.9" font-size="11" text-anchor="end" fill="#000" stroke="#000" stroke-width="0.25" font-family="Liberation Sans, Arial, sans-serif" >10</text>
<line x1="76" y1="424.9" x2="79.4" y2="424.9" stroke="#151515" stroke-width="1"/>
<text x="71.3" y="428.9" font-size="11" text-anchor="end" fill="#000" stroke="#000" stroke-width="0.25" font-family="Liberation Sans, Arial, sans-serif" >8</text>
<line x1="76" y1="447.2" x2="79.4" y2="447.2" stroke="#151515" stroke-width="1"/>
<text x="71.3" y="451.2" font-size="11" text-anchor="end" fill="#000" stroke="#000" stroke-width="0.25" font-family="Liberation Sans, Arial, sans-serif" >6</text>
<line x1="123.4" y1="458.1" x2="123.4" y2="461.7" stroke="#151515" stroke-width="1"/>
<text x="123.4" y="476" font-size="11" text-anchor="middle" fill="#000" stroke="#000" stroke-width="0.25" font-family="Liberation Sans, Arial, sans-serif" >2</text>
<line x1="181.60000000000002" y1="458.1" x2="181.60000000000002" y2="461.7" stroke="#151515" stroke-width="1"/>
<text x="181.60000000000002" y="476" font-size="11" text-anchor="middle" fill="#000" stroke="#000" stroke-width="0.25" font-family="Liberation Sans, Arial, sans-serif" >4</text>
<line x1="239.8" y1="458.1" x2="239.8" y2="461.7" stroke="#151515" stroke-width="1"/>
<text x="239.8" y="476" font-size="11" text-anchor="middle" fill="#000" stroke="#000" stroke-width="0.25" font-family="Liberation Sans, Arial, sans-serif" >6</text>
<line x1="298.0" y1="458.1" x2="298.0" y2="461.7" stroke="#151515" stroke-width="1"/>
<text x="298.0" y="476" font-size="11" text-anchor="middle" fill="#000" stroke="#000" stroke-width="0.25" font-family="Liberation Sans, Arial, sans-serif" >8</text>
<line x1="356.20000000000005" y1="458.1" x2="356.20000000000005" y2="461.7" stroke="#151515" stroke-width="1"/>
<text x="356.20000000000005" y="476" font-size="11" text-anchor="middle" fill="#000" stroke="#000" stroke-width="0.25" font-family="Liberation Sans, Arial, sans-serif" >10</text>
<line x1="414.40000000000003" y1="458.1" x2="414.40000000000003" y2="461.7" stroke="#151515" stroke-width="1"/>
<text x="414.40000000000003" y="476" font-size="11" text-anchor="middle" fill="#000" stroke="#000" stroke-width="0.25" font-family="Liberation Sans, Arial, sans-serif" >12</text>
<text x="238.2" y="491.7" font-size="13.8" text-anchor="middle" fill="#000" stroke="#000" stroke-width="0.25" font-family="Liberation Sans, Arial, sans-serif" >period</text>
<rect x="253.1" y="378.3" width="2.4" height="77.6" fill="#d0d0d0"/>
<path d="M94.30,410.20 L123.40,428.30 L152.50,434.50 L181.60,438.70 L210.70,438.60 L239.80,442.60 L268.90,435.10 L298.00,434.10 L327.10,438.10 L356.20,434.10 L385.30,436.10 L414.40,435.30" fill="none" stroke="#000" stroke-width="1.1" stroke-linejoin="round" />
<line x1="94.3" y1="404.7" x2="94.3" y2="415.8" stroke="#000" stroke-width="1"/>
<line x1="91.7" y1="404.7" x2="96.89999999999999" y2="404.7" stroke="#000" stroke-width="1"/>
<line x1="91.7" y1="415.8" x2="96.89999999999999" y2="415.8" stroke="#000" stroke-width="1"/>
<circle cx="94.3" cy="410.2" r="2.0" fill="#000"/>
<line x1="123.4" y1="424.3" x2="123.4" y2="432.2" stroke="#000" stroke-width="1"/>
<line x1="120.80000000000001" y1="424.3" x2="126.0" y2="424.3" stroke="#000" stroke-width="1"/>
<line x1="120.80000000000001" y1="432.2" x2="126.0" y2="432.2" stroke="#000" stroke-width="1"/>
<circle cx="123.4" cy="428.3" r="2.0" fill="#000"/>
<line x1="152.5" y1="431.6" x2="152.5" y2="437" stroke="#000" stroke-width="1"/>
<line x1="149.9" y1="431.6" x2="155.1" y2="431.6" stroke="#000" stroke-width="1"/>
<line x1="149.9" y1="437" x2="155.1" y2="437" stroke="#000" stroke-width="1"/>
<circle cx="152.5" cy="434.5" r="2.0" fill="#000"/>
<line x1="181.60000000000002" y1="435.4" x2="181.60000000000002" y2="441.6" stroke="#000" stroke-width="1"/>
<line x1="179.00000000000003" y1="435.4" x2="184.20000000000002" y2="435.4" stroke="#000" stroke-width="1"/>
<line x1="179.00000000000003" y1="441.6" x2="184.20000000000002" y2="441.6" stroke="#000" stroke-width="1"/>
<circle cx="181.60000000000002" cy="438.7" r="2.0" fill="#000"/>
<line x1="210.7" y1="435.4" x2="210.7" y2="440.9" stroke="#000" stroke-width="1"/>
<line x1="208.1" y1="435.4" x2="213.29999999999998" y2="435.4" stroke="#000" stroke-width="1"/>
<line x1="208.1" y1="440.9" x2="213.29999999999998" y2="440.9" stroke="#000" stroke-width="1"/>
<circle cx="210.7" cy="438.6" r="2.0" fill="#000"/>
<line x1="239.8" y1="439.3" x2="239.8" y2="446" stroke="#000" stroke-width="1"/>
<line x1="237.20000000000002" y1="439.3" x2="242.4" y2="439.3" stroke="#000" stroke-width="1"/>
<line x1="237.20000000000002" y1="446" x2="242.4" y2="446" stroke="#000" stroke-width="1"/>
<circle cx="239.8" cy="442.6" r="2.0" fill="#000"/>
<line x1="268.90000000000003" y1="432.2" x2="268.90000000000003" y2="438.7" stroke="#000" stroke-width="1"/>
<line x1="266.3" y1="432.2" x2="271.50000000000006" y2="432.2" stroke="#000" stroke-width="1"/>
<line x1="266.3" y1="438.7" x2="271.50000000000006" y2="438.7" stroke="#000" stroke-width="1"/>
<circle cx="268.90000000000003" cy="435.1" r="2.0" fill="#000"/>
<line x1="298.0" y1="430.2" x2="298.0" y2="438" stroke="#000" stroke-width="1"/>
<line x1="295.4" y1="430.2" x2="300.6" y2="430.2" stroke="#000" stroke-width="1"/>
<line x1="295.4" y1="438" x2="300.6" y2="438" stroke="#000" stroke-width="1"/>
<circle cx="298.0" cy="434.1" r="2.0" fill="#000"/>
<line x1="327.1" y1="434.7" x2="327.1" y2="441.5" stroke="#000" stroke-width="1"/>
<line x1="324.5" y1="434.7" x2="329.70000000000005" y2="434.7" stroke="#000" stroke-width="1"/>
<line x1="324.5" y1="441.5" x2="329.70000000000005" y2="441.5" stroke="#000" stroke-width="1"/>
<circle cx="327.1" cy="438.1" r="2.0" fill="#000"/>
<line x1="356.20000000000005" y1="430.2" x2="356.20000000000005" y2="438" stroke="#000" stroke-width="1"/>
<line x1="353.6" y1="430.2" x2="358.80000000000007" y2="430.2" stroke="#000" stroke-width="1"/>
<line x1="353.6" y1="438" x2="358.80000000000007" y2="438" stroke="#000" stroke-width="1"/>
<circle cx="356.20000000000005" cy="434.1" r="2.0" fill="#000"/>
<line x1="385.3" y1="433.2" x2="385.3" y2="439" stroke="#000" stroke-width="1"/>
<line x1="382.7" y1="433.2" x2="387.90000000000003" y2="433.2" stroke="#000" stroke-width="1"/>
<line x1="382.7" y1="439" x2="387.90000000000003" y2="439" stroke="#000" stroke-width="1"/>
<circle cx="385.3" cy="436.1" r="2.0" fill="#000"/>
<line x1="414.40000000000003" y1="431.4" x2="414.40000000000003" y2="439.3" stroke="#000" stroke-width="1"/>
<line x1="411.8" y1="431.4" x2="417.00000000000006" y2="431.4" stroke="#000" stroke-width="1"/>
<line x1="411.8" y1="439.3" x2="417.00000000000006" y2="439.3" stroke="#000" stroke-width="1"/>
<circle cx="414.40000000000003" cy="435.3" r="2.0" fill="#000"/>
<path d="M94.30,400.90 L123.40,426.30 L152.50,427.80 L181.60,431.20 L210.70,431.90 L239.80,436.70 L268.90,442.00 L298.00,441.60 L327.10,440.60 L356.20,442.00 L385.30,442.60 L414.40,443.40" fill="none" stroke="#ff0000" stroke-width="1.1" stroke-linejoin="round" />
<line x1="94.3" y1="394.2" x2="94.3" y2="407.2" stroke="#ff0000" stroke-width="1"/>
<line x1="91.7" y1="394.2" x2="96.89999999999999" y2="394.2" stroke="#ff0000" stroke-width="1"/>
<line x1="91.7" y1="407.2" x2="96.89999999999999" y2="407.2" stroke="#ff0000" stroke-width="1"/>
<circle cx="94.3" cy="400.9" r="2.0" fill="#ff0000"/>
<line x1="123.4" y1="421.7" x2="123.4" y2="430.6" stroke="#ff0000" stroke-width="1"/>
<line x1="120.80000000000001" y1="421.7" x2="126.0" y2="421.7" stroke="#ff0000" stroke-width="1"/>
<line x1="120.80000000000001" y1="430.6" x2="126.0" y2="430.6" stroke="#ff0000" stroke-width="1"/>
<circle cx="123.4" cy="426.3" r="2.0" fill="#ff0000"/>
<line x1="152.5" y1="423.5" x2="152.5" y2="432.2" stroke="#ff0000" stroke-width="1"/>
<line x1="149.9" y1="423.5" x2="155.1" y2="423.5" stroke="#ff0000" stroke-width="1"/>
<line x1="149.9" y1="432.2" x2="155.1" y2="432.2" stroke="#ff0000" stroke-width="1"/>
<circle cx="152.5" cy="427.8" r="2.0" fill="#ff0000"/>
<line x1="181.60000000000002" y1="427.3" x2="181.60000000000002" y2="435.1" stroke="#ff0000" stroke-width="1"/>
<line x1="179.00000000000003" y1="427.3" x2="184.20000000000002" y2="427.3" stroke="#ff0000" stroke-width="1"/>
<line x1="179.00000000000003" y1="435.1" x2="184.20000000000002" y2="435.1" stroke="#ff0000" stroke-width="1"/>
<circle cx="181.60000000000002" cy="431.2" r="2.0" fill="#ff0000"/>
<line x1="210.7" y1="427.5" x2="210.7" y2="435.5" stroke="#ff0000" stroke-width="1"/>
<line x1="208.1" y1="427.5" x2="213.29999999999998" y2="427.5" stroke="#ff0000" stroke-width="1"/>
<line x1="208.1" y1="435.5" x2="213.29999999999998" y2="435.5" stroke="#ff0000" stroke-width="1"/>
<circle cx="210.7" cy="431.9" r="2.0" fill="#ff0000"/>
<line x1="239.8" y1="433.4" x2="239.8" y2="440.5" stroke="#ff0000" stroke-width="1"/>
<line x1="237.20000000000002" y1="433.4" x2="242.4" y2="433.4" stroke="#ff0000" stroke-width="1"/>
<line x1="237.20000000000002" y1="440.5" x2="242.4" y2="440.5" stroke="#ff0000" stroke-width="1"/>
<circle cx="239.8" cy="436.7" r="2.0" fill="#ff0000"/>
<line x1="268.90000000000003" y1="438.7" x2="268.90000000000003" y2="445.2" stroke="#ff0000" stroke-width="1"/>
<line x1="266.3" y1="438.7" x2="271.50000000000006" y2="438.7" stroke="#ff0000" stroke-width="1"/>
<line x1="266.3" y1="445.2" x2="271.50000000000006" y2="445.2" stroke="#ff0000" stroke-width="1"/>
<circle cx="268.90000000000003" cy="442" r="2.0" fill="#ff0000"/>
<line x1="298.0" y1="438" x2="298.0" y2="445.2" stroke="#ff0000" stroke-width="1"/>
<line x1="295.4" y1="438" x2="300.6" y2="438" stroke="#ff0000" stroke-width="1"/>
<line x1="295.4" y1="445.2" x2="300.6" y2="445.2" stroke="#ff0000" stroke-width="1"/>
<circle cx="298.0" cy="441.6" r="2.0" fill="#ff0000"/>
<line x1="327.1" y1="437.5" x2="327.1" y2="443.7" stroke="#ff0000" stroke-width="1"/>
<line x1="324.5" y1="437.5" x2="329.70000000000005" y2="437.5" stroke="#ff0000" stroke-width="1"/>
<line x1="324.5" y1="443.7" x2="329.70000000000005" y2="443.7" stroke="#ff0000" stroke-width="1"/>
<circle cx="327.1" cy="440.6" r="2.0" fill="#ff0000"/>
<line x1="356.20000000000005" y1="437.7" x2="356.20000000000005" y2="446.5" stroke="#ff0000" stroke-width="1"/>
<line x1="353.6" y1="437.7" x2="358.80000000000007" y2="437.7" stroke="#ff0000" stroke-width="1"/>
<line x1="353.6" y1="446.5" x2="358.80000000000007" y2="446.5" stroke="#ff0000" stroke-width="1"/>
<circle cx="356.20000000000005" cy="442" r="2.0" fill="#ff0000"/>
<line x1="385.3" y1="439" x2="385.3" y2="446.1" stroke="#ff0000" stroke-width="1"/>
<line x1="382.7" y1="439" x2="387.90000000000003" y2="439" stroke="#ff0000" stroke-width="1"/>
<line x1="382.7" y1="446.1" x2="387.90000000000003" y2="446.1" stroke="#ff0000" stroke-width="1"/>
<circle cx="385.3" cy="442.6" r="2.0" fill="#ff0000"/>
<line x1="414.40000000000003" y1="439.6" x2="414.40000000000003" y2="447.5" stroke="#ff0000" stroke-width="1"/>
<line x1="411.8" y1="439.6" x2="417.00000000000006" y2="439.6" stroke="#ff0000" stroke-width="1"/>
<line x1="411.8" y1="447.5" x2="417.00000000000006" y2="447.5" stroke="#ff0000" stroke-width="1"/>
<circle cx="414.40000000000003" cy="443.4" r="2.0" fill="#ff0000"/>
<text x="6.2" y="509.6" font-size="21" text-anchor="start" fill="#000" stroke="#000" stroke-width="0.25" font-family="Liberation Sans, Arial, sans-serif" >C</text>
<text x="26" y="568" font-size="13.8" text-anchor="middle" fill="#000" stroke="#000" stroke-width="0.25" font-family="Liberation Sans, Arial, sans-serif" transform="rotate(-90 26 568)" >spikes/s</text>
<line x1="52.4" y1="508.1" x2="52.4" y2="628.6" stroke="#151515" stroke-width="1"/>
<line x1="52.4" y1="628.5" x2="157.8" y2="628.5" stroke="#151515" stroke-width="1"/>
<line x1="52.6" y1="628.5" x2="52.6" y2="631.6" stroke="#151515" stroke-width="1"/>
<line x1="49.6" y1="531.7" x2="52.4" y2="531.7" stroke="#151515" stroke-width="1"/>
<text x="44.2" y="535.7" font-size="11" text-anchor="end" fill="#000" stroke="#000" stroke-width="0.25" font-family="Liberation Sans, Arial, sans-serif" >60</text>
<line x1="49.6" y1="564" x2="52.4" y2="564" stroke="#151515" stroke-width="1"/>
<text x="44.2" y="568" font-size="11" text-anchor="end" fill="#000" stroke="#000" stroke-width="0.25" font-family="Liberation Sans, Arial, sans-serif" >40</text>
<line x1="49.6" y1="596.3" x2="52.4" y2="596.3" stroke="#151515" stroke-width="1"/>
<text x="44.2" y="600.3" font-size="11" text-anchor="end" fill="#000" stroke="#000" stroke-width="0.25" font-family="Liberation Sans, Arial, sans-serif" >20</text>
<line x1="49.6" y1="628.5" x2="52.4" y2="628.5" stroke="#151515" stroke-width="1"/>
<text x="44.2" y="632.5" font-size="11" text-anchor="end" fill="#000" stroke="#000" stroke-width="0.25" font-family="Liberation Sans, Arial, sans-serif" >0</text>
<line x1="100.5" y1="628.5" x2="100.5" y2="631.6" stroke="#151515" stroke-width="1"/>
<line x1="148.6" y1="628.5" x2="148.6" y2="631.6" stroke="#151515" stroke-width="1"/>
<text x="53.0" y="647.5" font-size="11" text-anchor="middle" fill="#000" stroke="#000" stroke-width="0.25" font-family="Liberation Sans, Arial, sans-serif" >0</text>
<text x="101.1" y="647.5" font-size="11" text-anchor="middle" fill="#000" stroke="#000" stroke-width="0.25" font-family="Liberation Sans, Arial, sans-serif" >5</text>
<text x="149.2" y="647.5" font-size="11" text-anchor="middle" fill="#000" stroke="#000" stroke-width="0.25" font-family="Liberation Sans, Arial, sans-serif" >10</text>
<text x="104.9" y="665" font-size="13.8" text-anchor="middle" fill="#000" stroke="#000" stroke-width="0.25" font-family="Liberation Sans, Arial, sans-serif" >frequency [Hz]</text>
<path d="M62.02,606.00 L71.64,595.40 L81.26,583.90 L100.50,564.60 L124.55,539.40 L148.60,531.50" fill="none" stroke="#000" stroke-width="1.1" stroke-linejoin="round" />
<line x1="62.019999999999996" y1="603" x2="62.019999999999996" y2="609" stroke="#000" stroke-width="1"/>
<line x1="59.419999999999995" y1="603" x2="64.61999999999999" y2="603" stroke="#000" stroke-width="1"/>
<line x1="59.419999999999995" y1="609" x2="64.61999999999999" y2="609" stroke="#000" stroke-width="1"/>
<circle cx="62.019999999999996" cy="606" r="2.0" fill="#000"/>
<line x1="71.64" y1="592.5" x2="71.64" y2="598.5" stroke="#000" stroke-width="1"/>
<line x1="69.04" y1="592.5" x2="74.24" y2="592.5" stroke="#000" stroke-width="1"/>
<line x1="69.04" y1="598.5" x2="74.24" y2="598.5" stroke="#000" stroke-width="1"/>
<circle cx="71.64" cy="595.4" r="2.0" fill="#000"/>
<line x1="81.25999999999999" y1="581" x2="81.25999999999999" y2="587" stroke="#000" stroke-width="1"/>
<line x1="78.66" y1="581" x2="83.85999999999999" y2="581" stroke="#000" stroke-width="1"/>
<line x1="78.66" y1="587" x2="83.85999999999999" y2="587" stroke="#000" stroke-width="1"/>
<circle cx="81.25999999999999" cy="583.9" r="2.0" fill="#000"/>
<line x1="100.5" y1="561.5" x2="100.5" y2="567.5" stroke="#000" stroke-width="1"/>
<line x1="97.9" y1="561.5" x2="103.1" y2="561.5" stroke="#000" stroke-width="1"/>
<line x1="97.9" y1="567.5" x2="103.1" y2="567.5" stroke="#000" stroke-width="1"/>
<circle cx="100.5" cy="564.6" r="2.0" fill="#000"/>
<line x1="124.54999999999998" y1="535.8" x2="124.54999999999998" y2="543" stroke="#000" stroke-width="1"/>
<line x1="121.94999999999999" y1="535.8" x2="127.14999999999998" y2="535.8" stroke="#000" stroke-width="1"/>
<line x1="121.94999999999999" y1="543" x2="127.14999999999998" y2="543" stroke="#000" stroke-width="1"/>
<circle cx="124.54999999999998" cy="539.4" r="2.0" fill="#000"/>
<line x1="148.6" y1="526.2" x2="148.6" y2="536.3" stroke="#000" stroke-width="1"/>
<line x1="146.0" y1="526.2" x2="151.2" y2="526.2" stroke="#000" stroke-width="1"/>
<line x1="146.0" y1="536.3" x2="151.2" y2="536.3" stroke="#000" stroke-width="1"/>
<circle cx="148.6" cy="531.5" r="2.0" fill="#000"/>
<path d="M62.02,605.50 L71.64,592.30 L81.26,579.50 L100.50,553.80 L124.55,527.40 L148.60,519.70" fill="none" stroke="#ff0000" stroke-width="1.1" stroke-linejoin="round" />
<line x1="62.019999999999996" y1="602.5" x2="62.019999999999996" y2="608.5" stroke="#ff0000" stroke-width="1"/>
<line x1="59.419999999999995" y1="602.5" x2="64.61999999999999" y2="602.5" stroke="#ff0000" stroke-width="1"/>
<line x1="59.419999999999995" y1="608.5" x2="64.61999999999999" y2="608.5" stroke="#ff0000" stroke-width="1"/>
<circle cx="62.019999999999996" cy="605.5" r="2.0" fill="#ff0000"/>
<line x1="71.64" y1="589" x2="71.64" y2="595.5" stroke="#ff0000" stroke-width="1"/>
<line x1="69.04" y1="589" x2="74.24" y2="589" stroke="#ff0000" stroke-width="1"/>
<line x1="69.04" y1="595.5" x2="74.24" y2="595.5" stroke="#ff0000" stroke-width="1"/>
<circle cx="71.64" cy="592.3" r="2.0" fill="#ff0000"/>
<line x1="81.25999999999999" y1="576" x2="81.25999999999999" y2="583" stroke="#ff0000" stroke-width="1"/>
<line x1="78.66" y1="576" x2="83.85999999999999" y2="576" stroke="#ff0000" stroke-width="1"/>
<line x1="78.66" y1="583" x2="83.85999999999999" y2="583" stroke="#ff0000" stroke-width="1"/>
<circle cx="81.25999999999999" cy="579.5" r="2.0" fill="#ff0000"/>
<line x1="100.5" y1="550.7" x2="100.5" y2="557" stroke="#ff0000" stroke-width="1"/>
<line x1="97.9" y1="550.7" x2="103.1" y2="550.7" stroke="#ff0000" stroke-width="1"/>
<line x1="97.9" y1="557" x2="103.1" y2="557" stroke="#ff0000" stroke-width="1"/>
<circle cx="100.5" cy="553.8" r="2.0" fill="#ff0000"/>
<line x1="124.54999999999998" y1="520.9" x2="124.54999999999998" y2="534.6" stroke="#ff0000" stroke-width="1"/>
<line x1="121.94999999999999" y1="520.9" x2="127.14999999999998" y2="520.9" stroke="#ff0000" stroke-width="1"/>
<line x1="121.94999999999999" y1="534.6" x2="127.14999999999998" y2="534.6" stroke="#ff0000" stroke-width="1"/>
<circle cx="124.54999999999998" cy="527.4" r="2.0" fill="#ff0000"/>
<line x1="148.6" y1="512.3" x2="148.6" y2="526.7" stroke="#ff0000" stroke-width="1"/>
<line x1="146.0" y1="512.3" x2="151.2" y2="512.3" stroke="#ff0000" stroke-width="1"/>
<line x1="146.0" y1="526.7" x2="151.2" y2="526.7" stroke="#ff0000" stroke-width="1"/>
<circle cx="148.6" cy="519.7" r="2.0" fill="#ff0000"/>
<text x="171.2" y="509.6" font-size="21" text-anchor="start" fill="#000" stroke="#000" stroke-width="0.25" font-family="Liberation Sans, Arial, sans-serif" >D</text>
<line x1="177.7" y1="628.2" x2="283.2" y2="628.2" stroke="#151515" stroke-width="1"/>
<line x1="177.7" y1="628.2" x2="177.7" y2="631.4" stroke="#151515" stroke-width="1"/>
<line x1="225.79999999999998" y1="628.2" x2="225.79999999999998" y2="631.4" stroke="#151515" stroke-width="1"/>
<line x1="273.9" y1="628.2" x2="273.9" y2="631.4" stroke="#151515" stroke-width="1"/>
<text x="177.7" y="647.5" font-size="11" text-anchor="middle" fill="#000" stroke="#000" stroke-width="0.25" font-family="Liberation Sans, Arial, sans-serif" >0</text>
<text x="225.79999999999998" y="647.5" font-size="11" text-anchor="middle" fill="#000" stroke="#000" stroke-width="0.25" font-family="Liberation Sans, Arial, sans-serif" >5</text>
<text x="273.9" y="647.5" font-size="11" text-anchor="middle" fill="#000" stroke="#000" stroke-width="0.25" font-family="Liberation Sans, Arial, sans-serif" >10</text>
<text x="230.8" y="665.2" font-size="13.8" text-anchor="middle" fill="#000" stroke="#000" stroke-width="0.25" font-family="Liberation Sans, Arial, sans-serif" >frequency [Hz]</text>
<path d="M187.32,608.80 L196.94,604.00 L206.56,597.10 L225.80,584.10 L249.85,577.20 L273.90,577.70" fill="none" stroke="#000" stroke-width="1.1" stroke-linejoin="round" />
<line x1="187.32" y1="606.5" x2="187.32" y2="611" stroke="#000" stroke-width="1"/>
<line x1="184.72" y1="606.5" x2="189.92" y2="606.5" stroke="#000" stroke-width="1"/>
<line x1="184.72" y1="611" x2="189.92" y2="611" stroke="#000" stroke-width="1"/>
<circle cx="187.32" cy="608.8" r="2.0" fill="#000"/>
<line x1="196.94" y1="601.5" x2="196.94" y2="606.5" stroke="#000" stroke-width="1"/>
<line x1="194.34" y1="601.5" x2="199.54" y2="601.5" stroke="#000" stroke-width="1"/>
<line x1="194.34" y1="606.5" x2="199.54" y2="606.5" stroke="#000" stroke-width="1"/>
<circle cx="196.94" cy="604" r="2.0" fill="#000"/>
<line x1="206.56" y1="594.5" x2="206.56" y2="599.5" stroke="#000" stroke-width="1"/>
<line x1="203.96" y1="594.5" x2="209.16" y2="594.5" stroke="#000" stroke-width="1"/>
<line x1="203.96" y1="599.5" x2="209.16" y2="599.5" stroke="#000" stroke-width="1"/>
<circle cx="206.56" cy="597.1" r="2.0" fill="#000"/>
<line x1="225.79999999999998" y1="581.5" x2="225.79999999999998" y2="586.5" stroke="#000" stroke-width="1"/>
<line x1="223.2" y1="581.5" x2="228.39999999999998" y2="581.5" stroke="#000" stroke-width="1"/>
<line x1="223.2" y1="586.5" x2="228.39999999999998" y2="586.5" stroke="#000" stroke-width="1"/>
<circle cx="225.79999999999998" cy="584.1" r="2.0" fill="#000"/>
<line x1="249.84999999999997" y1="573.5" x2="249.84999999999997" y2="581.1" stroke="#000" stroke-width="1"/>
<line x1="247.24999999999997" y1="573.5" x2="252.44999999999996" y2="573.5" stroke="#000" stroke-width="1"/>
<line x1="247.24999999999997" y1="581.1" x2="252.44999999999996" y2="581.1" stroke="#000" stroke-width="1"/>
<circle cx="249.84999999999997" cy="577.2" r="2.0" fill="#000"/>
<line x1="273.9" y1="570.8" x2="273.9" y2="584.5" stroke="#000" stroke-width="1"/>
<line x1="271.29999999999995" y1="570.8" x2="276.5" y2="570.8" stroke="#000" stroke-width="1"/>
<line x1="271.29999999999995" y1="584.5" x2="276.5" y2="584.5" stroke="#000" stroke-width="1"/>
<circle cx="273.9" cy="577.7" r="2.0" fill="#000"/>
<path d="M187.32,608.80 L196.94,601.30 L206.56,595.10 L225.80,582.50 L249.85,574.90 L273.90,577.70" fill="none" stroke="#ff0000" stroke-width="1.1" stroke-linejoin="round" />
<line x1="187.32" y1="606.5" x2="187.32" y2="611" stroke="#ff0000" stroke-width="1"/>
<line x1="184.72" y1="606.5" x2="189.92" y2="606.5" stroke="#ff0000" stroke-width="1"/>
<line x1="184.72" y1="611" x2="189.92" y2="611" stroke="#ff0000" stroke-width="1"/>
<circle cx="187.32" cy="608.8" r="2.0" fill="#ff0000"/>
<line x1="196.94" y1="598.5" x2="196.94" y2="604" stroke="#ff0000" stroke-width="1"/>
<line x1="194.34" y1="598.5" x2="199.54" y2="598.5" stroke="#ff0000" stroke-width="1"/>
<line x1="194.34" y1="604" x2="199.54" y2="604" stroke="#ff0000" stroke-width="1"/>
<circle cx="196.94" cy="601.3" r="2.0" fill="#ff0000"/>
<line x1="206.56" y1="592.5" x2="206.56" y2="597.5" stroke="#ff0000" stroke-width="1"/>
<line x1="203.96" y1="592.5" x2="209.16" y2="592.5" stroke="#ff0000" stroke-width="1"/>
<line x1="203.96" y1="597.5" x2="209.16" y2="597.5" stroke="#ff0000" stroke-width="1"/>
<circle cx="206.56" cy="595.1" r="2.0" fill="#ff0000"/>
<line x1="225.79999999999998" y1="580" x2="225.79999999999998" y2="585" stroke="#ff0000" stroke-width="1"/>
<line x1="223.2" y1="580" x2="228.39999999999998" y2="580" stroke="#ff0000" stroke-width="1"/>
<line x1="223.2" y1="585" x2="228.39999999999998" y2="585" stroke="#ff0000" stroke-width="1"/>
<circle cx="225.79999999999998" cy="582.5" r="2.0" fill="#ff0000"/>
<line x1="249.84999999999997" y1="570.8" x2="249.84999999999997" y2="579" stroke="#ff0000" stroke-width="1"/>
<line x1="247.24999999999997" y1="570.8" x2="252.44999999999996" y2="570.8" stroke="#ff0000" stroke-width="1"/>
<line x1="247.24999999999997" y1="579" x2="252.44999999999996" y2="579" stroke="#ff0000" stroke-width="1"/>
<circle cx="249.84999999999997" cy="574.9" r="2.0" fill="#ff0000"/>
<line x1="273.9" y1="570.8" x2="273.9" y2="584.5" stroke="#ff0000" stroke-width="1"/>
<line x1="271.29999999999995" y1="570.8" x2="276.5" y2="570.8" stroke="#ff0000" stroke-width="1"/>
<line x1="271.29999999999995" y1="584.5" x2="276.5" y2="584.5" stroke="#ff0000" stroke-width="1"/>
<circle cx="273.9" cy="577.7" r="2.0" fill="#ff0000"/>
<text x="289.6" y="509.6" font-size="21" text-anchor="start" fill="#000" stroke="#000" stroke-width="0.25" font-family="Liberation Sans, Arial, sans-serif" >E</text>
<text x="312.3" y="565.7" font-size="13.8" text-anchor="middle" fill="#000" stroke="#000" stroke-width="0.25" font-family="Liberation Sans, Arial, sans-serif" transform="rotate(-90 312.3 565.7)" >% change</text>
<line x1="344.2" y1="506.5" x2="344.2" y2="627.5" stroke="#151515" stroke-width="1"/>
<line x1="344.2" y1="627.3" x2="449.8" y2="627.3" stroke="#151515" stroke-width="1"/>
<line x1="344.5" y1="627.3" x2="344.5" y2="630.5" stroke="#151515" stroke-width="1"/>
<line x1="344.2" y1="567.1" x2="449.3" y2="567.1" stroke="#cfcfcf" stroke-width="0.8"/>
<line x1="341" y1="506.6" x2="344.2" y2="506.6" stroke="#151515" stroke-width="1"/>
<text x="335.8" y="510.6" font-size="11" text-anchor="end" fill="#000" stroke="#000" stroke-width="0.25" font-family="Liberation Sans, Arial, sans-serif" >20</text>
<line x1="341" y1="536.8" x2="344.2" y2="536.8" stroke="#151515" stroke-width="1"/>
<text x="335.8" y="540.8" font-size="11" text-anchor="end" fill="#000" stroke="#000" stroke-width="0.25" font-family="Liberation Sans, Arial, sans-serif" >10</text>
<line x1="341" y1="567.0" x2="344.2" y2="567.0" stroke="#151515" stroke-width="1"/>
<text x="335.8" y="571.0" font-size="11" text-anchor="end" fill="#000" stroke="#000" stroke-width="0.25" font-family="Liberation Sans, Arial, sans-serif" >0</text>
<line x1="341" y1="597.1" x2="344.2" y2="597.1" stroke="#151515" stroke-width="1"/>
<text x="335.8" y="601.1" font-size="11" text-anchor="end" fill="#000" stroke="#000" stroke-width="0.25" font-family="Liberation Sans, Arial, sans-serif" >−10</text>
<line x1="341" y1="627.3" x2="344.2" y2="627.3" stroke="#151515" stroke-width="1"/>
<text x="335.8" y="631.3" font-size="11" text-anchor="end" fill="#000" stroke="#000" stroke-width="0.25" font-family="Liberation Sans, Arial, sans-serif" >−20</text>
<line x1="392.29999999999995" y1="627.3" x2="392.29999999999995" y2="630.5" stroke="#151515" stroke-width="1"/>
<line x1="440.4" y1="627.3" x2="440.4" y2="630.5" stroke="#151515" stroke-width="1"/>
<text x="344.8" y="645.3" font-size="11" text-anchor="middle" fill="#000" stroke="#000" stroke-width="0.25" font-family="Liberation Sans, Arial, sans-serif" >0</text>
<text x="392.9" y="645.3" font-size="11" text-anchor="middle" fill="#000" stroke="#000" stroke-width="0.25" font-family="Liberation Sans, Arial, sans-serif" >5</text>
<text x="441.0" y="645.3" font-size="11" text-anchor="middle" fill="#000" stroke="#000" stroke-width="0.25" font-family="Liberation Sans, Arial, sans-serif" >10</text>
<text x="397.4" y="664.3" font-size="13.8" text-anchor="middle" fill="#000" stroke="#000" stroke-width="0.25" font-family="Liberation Sans, Arial, sans-serif" >frequency [Hz]</text>
<path d="M353.82,570.80 L363.44,587.20 L373.06,589.30 L392.30,580.50 L416.35,572.00 L440.40,539.10" fill="none" stroke="#2be02b" stroke-width="1.1" stroke-linejoin="round" />
<line x1="353.82" y1="566.5" x2="353.82" y2="575.5" stroke="#2be02b" stroke-width="1"/>
<line x1="351.21999999999997" y1="566.5" x2="356.42" y2="566.5" stroke="#2be02b" stroke-width="1"/>
<line x1="351.21999999999997" y1="575.5" x2="356.42" y2="575.5" stroke="#2be02b" stroke-width="1"/>
<circle cx="353.82" cy="570.8" r="1.6" fill="#2be02b"/>
<line x1="363.44" y1="584.2" x2="363.44" y2="590.5" stroke="#2be02b" stroke-width="1"/>
<line x1="360.84" y1="584.2" x2="366.04" y2="584.2" stroke="#2be02b" stroke-width="1"/>
<line x1="360.84" y1="590.5" x2="366.04" y2="590.5" stroke="#2be02b" stroke-width="1"/>
<circle cx="363.44" cy="587.2" r="1.6" fill="#2be02b"/>
<line x1="373.06" y1="585.3" x2="373.06" y2="594.9" stroke="#2be02b" stroke-width="1"/>
<line x1="370.46" y1="585.3" x2="375.66" y2="585.3" stroke="#2be02b" stroke-width="1"/>
<line x1="370.46" y1="594.9" x2="375.66" y2="594.9" stroke="#2be02b" stroke-width="1"/>
<circle cx="373.06" cy="589.3" r="1.6" fill="#2be02b"/>
<line x1="392.29999999999995" y1="574.4" x2="392.29999999999995" y2="587.7" stroke="#2be02b" stroke-width="1"/>
<line x1="389.69999999999993" y1="574.4" x2="394.9" y2="574.4" stroke="#2be02b" stroke-width="1"/>
<line x1="389.69999999999993" y1="587.7" x2="394.9" y2="587.7" stroke="#2be02b" stroke-width="1"/>
<circle cx="392.29999999999995" cy="580.5" r="1.6" fill="#2be02b"/>
<line x1="416.34999999999997" y1="563.6" x2="416.34999999999997" y2="582.1" stroke="#2be02b" stroke-width="1"/>
<line x1="413.74999999999994" y1="563.6" x2="418.95" y2="563.6" stroke="#2be02b" stroke-width="1"/>
<line x1="413.74999999999994" y1="582.1" x2="418.95" y2="582.1" stroke="#2be02b" stroke-width="1"/>
<circle cx="416.34999999999997" cy="572" r="1.6" fill="#2be02b"/>
<line x1="440.4" y1="517.5" x2="440.4" y2="561.2" stroke="#2be02b" stroke-width="1"/>
<line x1="437.79999999999995" y1="517.5" x2="443.0" y2="517.5" stroke="#2be02b" stroke-width="1"/>
<line x1="437.79999999999995" y1="561.2" x2="443.0" y2="561.2" stroke="#2be02b" stroke-width="1"/>
<circle cx="440.4" cy="539.1" r="1.6" fill="#2be02b"/>
<path d="M353.82,569.20 L363.44,599.70 L373.06,589.30 L392.30,606.10 L416.35,598.50 L440.40,595.60" fill="none" stroke="#1a1aa6" stroke-width="1.1" stroke-linejoin="round" />
<line x1="353.82" y1="561.2" x2="353.82" y2="577.3" stroke="#1a1aa6" stroke-width="1"/>
<line x1="351.21999999999997" y1="561.2" x2="356.42" y2="561.2" stroke="#1a1aa6" stroke-width="1"/>
<line x1="351.21999999999997" y1="577.3" x2="356.42" y2="577.3" stroke="#1a1aa6" stroke-width="1"/>
<circle cx="353.82" cy="569.2" r="1.6" fill="#1a1aa6"/>
<line x1="363.44" y1="592.5" x2="363.44" y2="607.3" stroke="#1a1aa6" stroke-width="1"/>
<line x1="360.84" y1="592.5" x2="366.04" y2="592.5" stroke="#1a1aa6" stroke-width="1"/>
<line x1="360.84" y1="607.3" x2="366.04" y2="607.3" stroke="#1a1aa6" stroke-width="1"/>
<circle cx="363.44" cy="599.7" r="1.6" fill="#1a1aa6"/>
<line x1="373.06" y1="581.7" x2="373.06" y2="597.3" stroke="#1a1aa6" stroke-width="1"/>
<line x1="370.46" y1="581.7" x2="375.66" y2="581.7" stroke="#1a1aa6" stroke-width="1"/>
<line x1="370.46" y1="597.3" x2="375.66" y2="597.3" stroke="#1a1aa6" stroke-width="1"/>
<circle cx="373.06" cy="589.3" r="1.6" fill="#1a1aa6"/>
<line x1="392.29999999999995" y1="600.4" x2="392.29999999999995" y2="612.2" stroke="#1a1aa6" stroke-width="1"/>
<line x1="389.69999999999993" y1="600.4" x2="394.9" y2="600.4" stroke="#1a1aa6" stroke-width="1"/>
<line x1="389.69999999999993" y1="612.2" x2="394.9" y2="612.2" stroke="#1a1aa6" stroke-width="1"/>
<circle cx="392.29999999999995" cy="606.1" r="1.6" fill="#1a1aa6"/>
<line x1="416.34999999999997" y1="590" x2="416.34999999999997" y2="607.6" stroke="#1a1aa6" stroke-width="1"/>
<line x1="413.74999999999994" y1="590" x2="418.95" y2="590" stroke="#1a1aa6" stroke-width="1"/>
<line x1="413.74999999999994" y1="607.6" x2="418.95" y2="607.6" stroke="#1a1aa6" stroke-width="1"/>
<circle cx="416.34999999999997" cy="598.5" r="1.6" fill="#1a1aa6"/>
<line x1="440.4" y1="588.9" x2="440.4" y2="602.5" stroke="#1a1aa6" stroke-width="1"/>
<line x1="437.79999999999995" y1="588.9" x2="443.0" y2="588.9" stroke="#1a1aa6" stroke-width="1"/>
<line x1="437.79999999999995" y1="602.5" x2="443.0" y2="602.5" stroke="#1a1aa6" stroke-width="1"/>
<circle cx="440.4" cy="595.6" r="1.6" fill="#1a1aa6"/></svg>
</body></html>
